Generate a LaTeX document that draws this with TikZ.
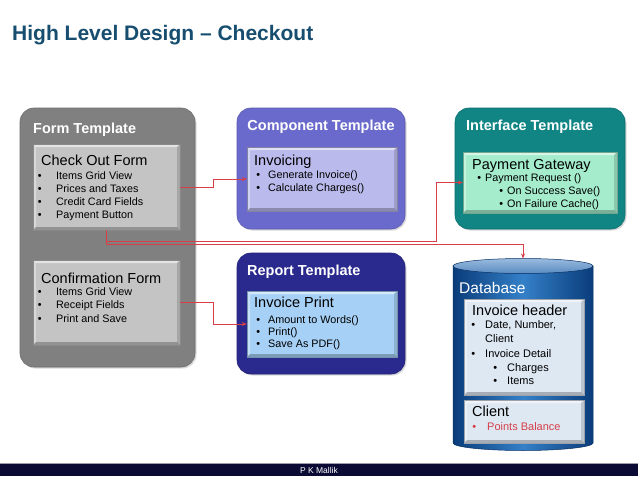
\documentclass[tikz,border=0pt]{standalone}
\usepackage{fontspec}
\setmainfont{Liberation Sans}
\usetikzlibrary{arrows.meta,shadows}
\definecolor{ttl}{RGB}{23,78,112}
\definecolor{formgray}{RGB}{128,128,128}
\definecolor{formin}{RGB}{196,196,196}
\definecolor{comp}{RGB}{106,106,205}
\definecolor{compin}{RGB}{186,186,236}
\definecolor{rep}{RGB}{42,42,142}
\definecolor{repin}{RGB}{166,208,245}
\definecolor{ifc}{RGB}{17,132,132}
\definecolor{ifcin}{RGB}{164,236,204}
\definecolor{dbdark}{RGB}{10,60,122}
\definecolor{dbmid}{RGB}{52,128,200}
\definecolor{dbtopc}{RGB}{110,158,210}
\definecolor{dbin}{RGB}{222,232,243}
\definecolor{redline}{RGB}{214,62,72}
\definecolor{foot}{RGB}{10,10,52}
\newcommand\bul[1]{\llap{\textbullet\hspace{#1}}}
\tikzset{
  outerbox/.style={rectangle, rounded corners=14pt, inner sep=0pt, fill=#1, draw=#1!85!black, line width=0.6pt,
    drop shadow={opacity=0.3, shadow xshift=1.5pt, shadow yshift=-1.5pt}},
  bevelbox/.style={rectangle, inner sep=0pt, fill=#1, draw=#1!70!black, line width=0.3pt,
    path picture={
      \fill[white,opacity=.55] (path picture bounding box.north west) -- (path picture bounding box.north east) -- ([shift={(-3pt,-3pt)}]path picture bounding box.north east) -- ([shift={(3pt,-3pt)}]path picture bounding box.north west) -- cycle;
      \fill[white,opacity=.35] (path picture bounding box.north west) -- ([shift={(3pt,-3pt)}]path picture bounding box.north west) -- ([shift={(3pt,3pt)}]path picture bounding box.south west) -- (path picture bounding box.south west) -- cycle;
      \fill[black,opacity=.25] (path picture bounding box.south west) -- ([shift={(3pt,3pt)}]path picture bounding box.south west) -- ([shift={(-3pt,3pt)}]path picture bounding box.south east) -- (path picture bounding box.south east) -- cycle;
      \fill[black,opacity=.15] (path picture bounding box.south east) -- ([shift={(-3pt,3pt)}]path picture bounding box.south east) -- ([shift={(-3pt,-3pt)}]path picture bounding box.north east) -- (path picture bounding box.north east) -- cycle;
    }},
  tmpl/.style={anchor=base west, inner sep=0pt, text=white, font=\bfseries\fontsize{14.5}{16}\selectfont},
  hd/.style={anchor=base west, inner sep=0pt, font=\fontsize{14.5}{16}\selectfont},
  txt/.style={anchor=base west, inner sep=0pt, font=\fontsize{10.8}{12}\selectfont},
  dbt/.style={anchor=base west, inner sep=0pt, font=\fontsize{11}{12}\selectfont},
  conn/.style={draw=redline, line width=0.8pt, -{Stealth[length=5pt,width=4pt]}},
}
\begin{document}
\begin{tikzpicture}[x=1pt,y=-1pt]
\useasboundingbox (0,0) rectangle (638,479);
\fill[white] (0,0) rectangle (638,479);

% title
\node[anchor=base west, inner sep=0pt, text=ttl, font=\bfseries\fontsize{21}{24}\selectfont] (title) at (12,40) {High Level Design -- Checkout};

% outer templates
\node[outerbox=formgray, minimum width=175pt, minimum height=259pt] (ft) at (107.5,237.5) {};
\node[outerbox=comp, minimum width=168pt, minimum height=121pt] (ct) at (321,168.5) {};
\node[outerbox=rep, minimum width=168pt, minimum height=121pt] (rt) at (321,313.5) {};
\node[outerbox=ifc, minimum width=170pt, minimum height=121pt] (it) at (540,168.5) {};

\node[tmpl] (ftt) at (33,133) {Form Template};
\node[tmpl, anchor=base] (ctt) at (321,130) {Component Template};
\node[tmpl] (rtt) at (247,275) {Report Template};
\node[tmpl] (itt) at (466,130) {Interface Template};

% inner boxes
\node[bevelbox=formin, minimum width=147pt, minimum height=86pt] (cof) at (106.5,187) {};
\node[bevelbox=formin, minimum width=147pt, minimum height=85pt] (conf) at (106.5,302.5) {};
\node[bevelbox=compin, minimum width=150pt, minimum height=64pt] (inv) at (322,179) {};
\node[bevelbox=repin, minimum width=150pt, minimum height=66pt] (ip) at (322,324) {};
\node[bevelbox=ifcin, minimum width=154pt, minimum height=61pt] (pg) at (540,182.5) {};

% check out form
\node[hd] (cof0) at (41,165) {Check Out Form};
\node[txt] (cof1) at (56,179) {\bul{14.5pt}Items Grid View};
\node[txt] (cof2) at (56,192) {\bul{14.5pt}Prices and Taxes};
\node[txt] (cof3) at (56,205) {\bul{14.5pt}Credit Card Fields};
\node[txt] (cof4) at (56,218) {\bul{14.5pt}Payment Button};

% confirmation form
\node[hd] (conf0) at (41,283) {Confirmation Form};
\node[txt] (conf1) at (56,295) {\bul{14.5pt}Items Grid View};
\node[txt] (conf2) at (56,308.5) {\bul{14.5pt}Receipt Fields};
\node[txt] (conf3) at (56,322) {\bul{14.5pt}Print and Save};

% invoicing
\node[hd] (inv0) at (254,165) {Invoicing};
\node[txt] (inv1) at (268,178) {\bul{8pt}Generate Invoice()};
\node[txt] (inv2) at (268,191) {\bul{8pt}Calculate Charges()};

% invoice print
\node[hd] (ip0) at (254,307) {Invoice Print};
\node[txt] (ip1) at (268,323) {\bul{8pt}Amount to Words()};
\node[txt] (ip2) at (268,335) {\bul{8pt}Print()};
\node[txt] (ip3) at (268,347) {\bul{8pt}Save As PDF()};

% payment gateway
\node[hd] (pg0) at (472,169) {Payment Gateway};
\node[txt] (pg1) at (485,181) {\bul{4pt}Payment Request ()};
\node[txt] (pg2) at (507,194) {\bul{4pt}On Success Save()};
\node[txt] (pg3) at (507,207) {\bul{4pt}On Failure Cache()};

% database cylinder
\shade[left color=dbdark, right color=dbdark, middle color=dbmid, draw=dbdark!80!black, line width=0.5pt]
  (453,266) -- (453,443) arc[start angle=180, end angle=0, x radius=70, y radius=7.5] -- (593,266) -- cycle;
\shade[top color=dbtopc!70!white, bottom color=dbtopc!80!dbdark, draw=dbdark!80!black, line width=0.5pt]
  (523,266) ellipse[x radius=70, y radius=7.5];
\coordinate (dbtop) at (523,258.5);
\node[anchor=base west, inner sep=0pt, text=white, font=\fontsize{15.5}{17}\selectfont] (dbt0) at (459,293) {Database};
\node[bevelbox=dbin, minimum width=120pt, minimum height=96pt] (ih) at (524,347) {};
\node[bevelbox=dbin, minimum width=120pt, minimum height=43pt] (cl) at (524,421.5) {};
\node[hd] (ih0) at (472,315) {Invoice header};
\node[dbt] (ih1) at (485,328) {\bul{10pt}Date, Number,};
\node[dbt] (ih2) at (485,342) {Client};
\node[dbt] (ih3) at (485,357) {\bul{10pt}Invoice Detail};
\node[dbt] (ih4) at (507,371) {\bul{10pt}Charges};
\node[dbt] (ih5) at (507,384) {\bul{10pt}Items};
\node[hd] (cl0) at (472,416) {Client};
\node[dbt, text=redline] (cl1) at (487,430) {\bul{11pt}Points Balance};

% connectors
\coordinate (j1) at (436,241);
\coordinate (j2) at (523,244);
\draw[conn] (cof.east) -- ++(33,0) |- (inv.west);
\draw[conn] (cof.south) |- (j1) |- (pg.west);
\draw[conn] (cof.south) |- (j2) -- (dbtop);
\draw[conn] (conf.east) -- ++(33,0) |- (ip.west);

% footer
\fill[foot] (0,463) -- (638,463) -- (638,476) -- (0,476) -- cycle;
\draw[foot!40!white, line width=0.8pt] (0,463.4) -- (638,463.4);
\node[inner sep=0pt, text=white, font=\fontsize{8.5}{10}\selectfont] (footer) at (319,470) {P K Mallik};
\end{tikzpicture}
\end{document}
